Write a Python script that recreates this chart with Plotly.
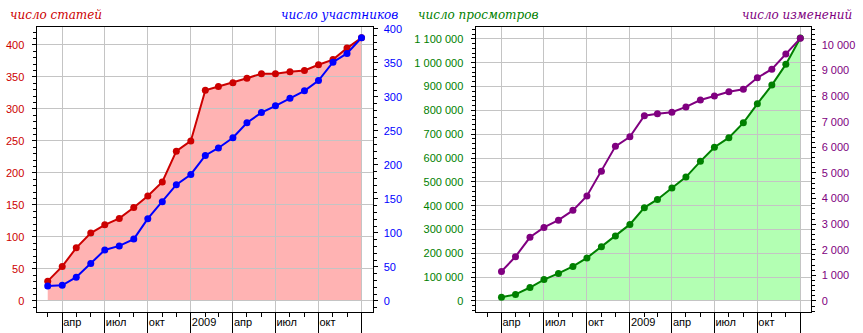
import plotly.graph_objects as go

# ---- data ----
months_articles = ["2008-03-01", "2008-04-01", "2008-05-01", "2008-06-01", "2008-07-01",
                   "2008-08-01", "2008-09-01", "2008-10-01", "2008-11-01", "2008-12-01",
                   "2009-01-01", "2009-02-01", "2009-03-01", "2009-04-01", "2009-05-01",
                   "2009-06-01", "2009-07-01", "2009-08-01", "2009-09-01", "2009-10-01",
                   "2009-11-01", "2009-12-01", "2010-01-01"]
articles = [31, 54, 83, 106, 119, 129, 146, 164, 186, 234, 250, 329, 335, 341, 348,
            355, 355, 358, 360, 369, 377, 395, 411]
participants = [22, 23, 35, 55, 75, 81, 91, 121, 146, 171, 186, 214, 225, 240, 262,
                277, 287, 298, 309, 324, 351, 364, 387]

months_views = ["2008-04-01", "2008-05-01", "2008-06-01", "2008-07-01",
                "2008-08-01", "2008-09-01", "2008-10-01", "2008-11-01", "2008-12-01",
                "2009-01-01", "2009-02-01", "2009-03-01", "2009-04-01", "2009-05-01",
                "2009-06-01", "2009-07-01", "2009-08-01", "2009-09-01", "2009-10-01",
                "2009-11-01", "2009-12-01", "2010-01-01"]
views = [15200, 27600, 56500, 89600, 115800, 144800, 180700, 227600, 273100, 321300,
         391700, 426100, 474400, 519900, 586100, 645400, 685400, 747500, 827500,
         906100, 993000, 1103300]
edits = [1154, 1731, 2487, 2872, 3154, 3538, 4103, 5064, 6038, 6410, 7231, 7308,
         7372, 7577, 7846, 8000, 8167, 8269, 8718, 9051, 9641, 10256]

quarter_ticks = ["2008-04-01", "2008-07-01", "2008-10-01", "2009-01-01",
                 "2009-04-01", "2009-07-01", "2009-10-01", "2010-01-01"]
quarter_labels = ["апр", "июл", "окт", "2009", "апр", "июл", "окт", ""]

title_articles = "число статей"
title_participants = "число участников"
title_views = "число просмотров"
title_edits = "число изменений"

# ---- style ----
W, H = 863, 333
RED, BLUE, GREEN, PURPLE = "#CC0000", "#0000FF", "#008000", "#800080"
PINK_FILL, GREEN_FILL = "#FFB3B3", "#B3FFB3"
GRID = "#C4C4C4"
TICKFONT = dict(family="Liberation Sans, Arial", size=11, color="black")
TITLEFONT = dict(family="DejaVu Serif", size=12, style="italic")

def px_x(p):
    return p / W

ydom = [(H - 312.5) / H, (H - 23.5) / H]
ldom = [px_x(36.5), px_x(372.5)]
rdom = [px_x(475.5), px_x(810.5)]
lxr = ["2008-02-06", "2010-01-24 12:00"]
rxr = ["2008-02-05 08:00", "2010-01-22 20:00"]

fig = go.Figure()

# fill layers (drawn in the lowest subplots so that grid lines sit above them)
fig.add_trace(go.Scatter(x=months_articles, y=articles, xaxis="x", yaxis="y",
                         mode="lines", line=dict(width=0, color=PINK_FILL),
                         fill="tozeroy", fillcolor=PINK_FILL, hoverinfo="skip"))
fig.add_trace(go.Scatter(x=months_articles, y=articles, xaxis="x2", yaxis="y2",
                         mode="lines+markers", line=dict(color=RED, width=2),
                         marker=dict(color=RED, size=7)))
fig.add_trace(go.Scatter(x=months_articles, y=participants, xaxis="x2", yaxis="y3",
                         mode="lines+markers", line=dict(color=BLUE, width=2),
                         marker=dict(color=BLUE, size=7)))
fig.add_trace(go.Scatter(x=months_views, y=views, xaxis="x3", yaxis="y4",
                         mode="lines", line=dict(width=0, color=GREEN_FILL),
                         fill="tozeroy", fillcolor=GREEN_FILL, hoverinfo="skip"))
fig.add_trace(go.Scatter(x=months_views, y=views, xaxis="x4", yaxis="y5",
                         mode="lines+markers", line=dict(color=GREEN, width=2),
                         marker=dict(color=GREEN, size=7)))
fig.add_trace(go.Scatter(x=months_views, y=edits, xaxis="x4", yaxis="y6",
                         mode="lines+markers", line=dict(color=PURPLE, width=2),
                         marker=dict(color=PURPLE, size=7)))

hidden = dict(visible=False, showgrid=False, zeroline=False, fixedrange=True)

def xaxis_vis(dom, rng):
    return dict(domain=dom, range=rng, type="date",
                tickmode="array", tickvals=quarter_ticks, ticktext=quarter_labels,
                ticks="outside", ticklen=21, tickwidth=1, tickcolor="black",
                ticklabelposition="outside right",
                tickfont=TICKFONT,
                showline=True, linecolor="black", linewidth=1, mirror=True,
                showgrid=True, gridcolor=GRID, gridwidth=1, zeroline=False,
                minor=dict(dtick="M1", tick0="2008-01-01", ticks="outside",
                           ticklen=4, tickcolor="black", showgrid=False))

def yaxis_vis(rng, color, dtick, mdtick, side, fmt, grid, standoff, overlay=None, anchor=None):
    d = dict(range=rng, domain=ydom, side=side, tickmode="linear", tick0=0, dtick=dtick,
             ticks="outside", ticklen=4, tickcolor="black",
             tickfont=dict(family="Liberation Sans, Arial", size=11, color=color),
             tickformat=fmt, ticklabelstandoff=standoff,
             showline=True, linecolor="black", linewidth=1,
             showgrid=grid, gridcolor=GRID, gridwidth=1, zeroline=False,
             minor=dict(dtick=mdtick, tick0=0, ticks="outside", ticklen=3,
                        tickcolor="black", showgrid=False))
    if overlay:
        d["overlaying"] = overlay
    if anchor:
        d["anchor"] = anchor
    return d

fig.update_layout(
    width=W, height=H,
    margin=dict(l=0, r=0, t=0, b=0),
    paper_bgcolor="white", plot_bgcolor="rgba(0,0,0,0)",
    showlegend=False,
    separators=", ",
    xaxis=dict(domain=ldom, range=lxr, type="date", anchor="y", **hidden),
    yaxis=dict(domain=ydom, range=[-16.9, 427.7], anchor="x", **hidden),
    xaxis2={**xaxis_vis(ldom, lxr), "anchor": "y2"},
    yaxis2=yaxis_vis([-16.9, 427.7], RED, 50, 10, "left", "d", True, 5, anchor="x2"),
    yaxis3=yaxis_vis([-15.9, 402.6], BLUE, 50, 10, "right", "d", False, 4, overlay="y2", anchor="x2"),
    xaxis3=dict(domain=rdom, range=rxr, type="date", anchor="y4", **hidden),
    yaxis4=dict(domain=ydom, range=[-45500, 1149200], anchor="x3", **hidden),
    xaxis4={**xaxis_vis(rdom, rxr), "anchor": "y5"},
    yaxis5=yaxis_vis([-45500, 1149200], GREEN, 100000, 20000, "left", ",d", True, 5, anchor="x4"),
    yaxis6=yaxis_vis([-423, 10692], PURPLE, 1000, 200, "right", ",d", False, 4, overlay="y5", anchor="x4"),
    annotations=[
        dict(text=title_articles, xref="paper", yref="paper", x=px_x(8), y=1 - 11 / H,
             xanchor="left", yanchor="middle", showarrow=False,
             font={**TITLEFONT, "color": RED}),
        dict(text=title_participants, xref="paper", yref="paper", x=px_x(400), y=1 - 11 / H,
             xanchor="right", yanchor="middle", showarrow=False,
             font={**TITLEFONT, "color": BLUE}),
        dict(text=title_views, xref="paper", yref="paper", x=px_x(416), y=1 - 11 / H,
             xanchor="left", yanchor="middle", showarrow=False,
             font={**TITLEFONT, "color": GREEN}),
        dict(text=title_edits, xref="paper", yref="paper", x=px_x(854), y=1 - 11 / H,
             xanchor="right", yanchor="middle", showarrow=False,
             font={**TITLEFONT, "color": PURPLE}),
    ],
)

fig.write_html("out.html")
